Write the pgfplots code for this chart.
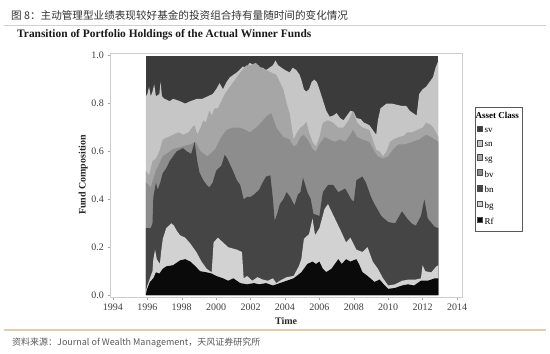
\documentclass[border=0pt]{standalone}
\usepackage{pgfplots}
\pgfplotsset{compat=1.18}
\usepackage{fontspec}
\setmainfont{Liberation Serif}
\newfontfamily\cjk{Noto Sans CJK SC}
\definecolor{svc}{HTML}{3B3B3B}
\definecolor{snc}{HTML}{C6C6C6}
\definecolor{sgc}{HTML}{A6A6A6}
\definecolor{bvc}{HTML}{8D8D8D}
\definecolor{bnc}{HTML}{454545}
\definecolor{bgc}{HTML}{D2D2D2}
\definecolor{rfc}{HTML}{0A0A0A}
\definecolor{tanc}{HTML}{E3CDAE}
\begin{document}
\begin{tikzpicture}
\useasboundingbox (0,0) rectangle (550pt,354pt);
\fill[white] (0,0) rectangle (550pt,354pt);
\node[anchor=west, inner sep=0, font=\cjk\fontsize{10.6}{12}\selectfont, text=black!80] at (11pt,339pt) {图 8：主动管理型业绩表现较好基金的投资组合持有量随时间的变化情况};
\draw[tanc, line width=1.2pt] (4pt,328.5pt) -- (546pt,328.5pt);
\node[anchor=base west, inner sep=0, font=\bfseries\fontsize{11.4}{13}\selectfont, text=black!90] at (17pt,316pt) {Transition of Portfolio Holdings of the Actual Winner Funds};
\draw[tanc, line width=1.2pt] (4pt,24pt) -- (546pt,24pt);
\node[anchor=west, inner sep=0, font=\cjk\fontsize{9}{11}\selectfont, text=black!65] at (12pt,11.5pt) {资料来源：Journal of Wealth Management，天风证券研究所};
\begin{axis}[
  at={(110.5pt,56.5pt)}, anchor=south west,
  width=351.2pt, height=244.8pt, scale only axis,
  xmin=1993.86, xmax=2014.27, ymin=-0.01, ymax=1.0125,
  xtick={1994,1996,1998,2000,2002,2004,2006,2008,2010,2012,2014},
  ytick={0,0.2,0.4,0.6,0.8,1},
  /pgf/number format/assume math mode=true,
  xticklabel style={/pgf/number format/1000 sep={}},
  yticklabel style={/pgf/number format/.cd, fixed, fixed zerofill, precision=1},
  tick label style={font=\fontsize{10}{11}\selectfont, text=black!75},
  tick pos=left, tick align=outside, major tick length=3pt,
  every tick/.style={gray!70, line width=0.4pt},
  axis line style={gray!40},
  xlabel={Time}, ylabel={Fund Composition},
  label style={font=\bfseries\fontsize{10}{11}\selectfont, text=black!85},
  xlabel style={at={(axis description cs:0.5,-0.096)}, anchor=center},
  ylabel style={at={(axis description cs:-0.078,0.5)}, anchor=center},
  legend image code/.code={\draw[#1, draw=gray!60!black, line width=0.3pt] (0pt,-0.3pt) rectangle (5.6pt,5.3pt);},
  legend style={at={(rel axis cs:1.038,0.779)}, anchor=north west, draw=gray!70!black, line width=0.4pt,
    font=\fontsize{9}{10}\selectfont, row sep=4.0pt, inner xsep=1.5pt, inner ysep=3pt,
    /tikz/every even column/.append style={column sep=1pt}},
  legend cell align=left,
]
\addlegendimage{empty legend}
\addlegendentry{\hspace{-9pt}\textbf{Asset Class}\hspace{5pt}}

\addplot[fill=svc, draw=none] coordinates {(1995.92,1.0) (2012.92,1.0)} \closedcycle;
\addlegendentry{sv}

\addplot[fill=snc, draw=none] coordinates {
(1995.92,0.83) (1996.0,0.84) (1996.1,0.87) (1996.2,0.83) (1996.3,0.85) (1996.4,0.88) (1996.5,0.83)
(1996.7,0.84) (1996.77,0.89) (1996.85,0.83) (1997.0,0.82) (1997.3,0.81) (1997.5,0.82) (1997.9,0.81)
(1998.2,0.80) (1998.5,0.81) (1998.9,0.82) (1999.2,0.82) (1999.5,0.83) (1999.8,0.84) (2000.0,0.86)
(2000.2,0.885) (2000.4,0.86) (2000.6,0.89) (2000.8,0.91) (2001.0,0.92) (2001.2,0.93) (2001.55,0.955)
(2001.75,0.95) (2001.95,0.97) (2002.2,0.96) (2002.4,0.95) (2002.7,0.95) (2002.9,0.94) (2003.1,0.95)
(2003.3,0.96) (2003.45,0.98) (2003.6,0.96) (2003.8,0.95) (2004.0,0.94) (2004.27,0.93) (2004.45,0.95)
(2004.66,0.94) (2004.85,0.92) (2004.95,0.90) (2005.1,0.86) (2005.24,0.85) (2005.4,0.86)
(2005.55,0.89) (2005.7,0.90) (2005.85,0.89) (2006.0,0.86) (2006.2,0.815) (2006.4,0.77) (2006.6,0.745)
(2006.8,0.75) (2007.0,0.76) (2007.2,0.74) (2007.4,0.73) (2007.6,0.75) (2007.8,0.77) (2008.0,0.765)
(2008.15,0.74) (2008.4,0.735) (2008.6,0.72) (2008.9,0.71) (2009.1,0.69) (2009.3,0.67) (2009.4,0.73)
(2009.55,0.78) (2009.9,0.80) (2010.2,0.80) (2010.5,0.795) (2010.8,0.79) (2011.05,0.79) (2011.25,0.77)
(2011.45,0.76) (2011.65,0.75) (2011.8,0.84) (2012.0,0.86) (2012.2,0.87) (2012.4,0.89) (2012.6,0.91)
(2012.75,0.95) (2012.92,0.98)} \closedcycle;
\addlegendentry{sn}

\addplot[fill=sgc, draw=none] coordinates {
(1995.92,0.52) (1996.1,0.50) (1996.3,0.56) (1996.5,0.57) (1996.7,0.60) (1996.9,0.65) (1997.2,0.66)
(1997.5,0.67) (1997.8,0.68) (1998.1,0.67) (1998.4,0.68) (1998.6,0.70) (1998.75,0.71) (1998.9,0.67)
(1999.1,0.70) (1999.25,0.73) (1999.4,0.72) (1999.6,0.77) (1999.75,0.75) (1999.9,0.78) (2000.1,0.78)
(2000.3,0.81) (2000.5,0.84) (2000.8,0.87) (2001.0,0.89) (2001.2,0.91) (2001.4,0.93) (2001.75,0.96)
(2002.0,0.96) (2002.3,0.97) (2002.6,0.95) (2002.9,0.94) (2003.2,0.93) (2003.5,0.92) (2003.7,0.89)
(2003.9,0.86) (2004.1,0.80) (2004.27,0.76) (2004.5,0.65) (2004.7,0.68) (2004.9,0.70) (2005.1,0.71)
(2005.24,0.725) (2005.4,0.68) (2005.6,0.64) (2005.8,0.62) (2006.0,0.66) (2006.2,0.72) (2006.5,0.73)
(2006.8,0.72) (2007.1,0.70) (2007.4,0.70) (2007.7,0.73) (2007.95,0.77) (2008.2,0.72) (2008.5,0.70)
(2008.9,0.69) (2009.1,0.65) (2009.3,0.607) (2009.5,0.60) (2009.7,0.58) (2009.9,0.60) (2010.1,0.64)
(2010.3,0.65) (2010.6,0.66) (2010.9,0.665) (2011.1,0.68) (2011.4,0.68) (2011.7,0.69) (2012.0,0.70)
(2012.2,0.72) (2012.5,0.71) (2012.7,0.69) (2012.92,0.66)} \closedcycle;
\addlegendentry{sg}

\addplot[fill=bvc, draw=none] coordinates {
(1995.92,0.47) (1996.2,0.45) (1996.5,0.52) (1996.9,0.58) (1997.5,0.61) (1998.0,0.62) (1998.5,0.63)
(1998.8,0.64) (1999.1,0.60) (1999.5,0.58) (1999.95,0.61) (2000.3,0.66) (2000.6,0.69) (2001.0,0.70)
(2001.37,0.70) (2001.7,0.69) (2001.95,0.68) (2002.33,0.70) (2002.6,0.72) (2002.9,0.745) (2003.2,0.76)
(2003.5,0.70) (2003.9,0.66) (2004.27,0.65) (2004.5,0.62) (2004.7,0.63) (2004.9,0.66) (2005.1,0.67)
(2005.4,0.64) (2005.6,0.61) (2005.8,0.60) (2006.0,0.63) (2006.3,0.66) (2006.6,0.65) (2006.9,0.64)
(2007.2,0.65) (2007.5,0.64) (2007.8,0.67) (2007.95,0.69) (2008.2,0.66) (2008.5,0.65) (2008.9,0.64)
(2009.2,0.60) (2009.4,0.58) (2009.7,0.57) (2010.0,0.58) (2010.3,0.61) (2010.6,0.63) (2011.0,0.63)
(2011.4,0.64) (2011.8,0.65) (2012.2,0.67) (2012.5,0.66) (2012.92,0.64)} \closedcycle;
\addlegendentry{bv}

\addplot[fill=bnc, draw=none] coordinates {
(1995.92,0.28) (1996.2,0.28) (1996.3,0.30) (1996.35,0.41) (1996.5,0.47) (1996.6,0.44) (1996.75,0.47)
(1996.9,0.51) (1997.1,0.53) (1997.3,0.56) (1997.5,0.58) (1997.7,0.60) (1998.07,0.614) (1998.3,0.60)
(1998.55,0.59) (1998.75,0.64) (1998.9,0.56) (1999.04,0.51) (1999.25,0.48) (1999.45,0.46) (1999.6,0.45)
(1999.8,0.47) (2000.0,0.52) (2000.3,0.54) (2000.5,0.586) (2000.65,0.57) (2000.97,0.52) (2001.2,0.48)
(2001.4,0.46) (2001.6,0.40) (2001.8,0.41) (2002.0,0.41) (2002.2,0.42) (2002.5,0.44) (2002.7,0.47)
(2002.9,0.495) (2003.15,0.50) (2003.3,0.40) (2003.4,0.31) (2003.55,0.34) (2003.7,0.38) (2003.9,0.40)
(2004.1,0.43) (2004.3,0.41) (2004.55,0.375) (2004.75,0.42) (2004.9,0.43) (2005.05,0.49) (2005.3,0.43)
(2005.5,0.40) (2005.65,0.34) (2006.0,0.33) (2006.2,0.43) (2006.5,0.46) (2006.8,0.46) (2007.1,0.43)
(2007.5,0.445) (2007.85,0.40) (2008.0,0.39) (2008.15,0.48) (2008.5,0.495) (2008.7,0.47) (2008.85,0.44)
(2009.0,0.41) (2009.2,0.38) (2009.6,0.33) (2010.0,0.305) (2010.4,0.30) (2010.8,0.35) (2011.1,0.32)
(2011.35,0.30) (2011.6,0.29) (2011.9,0.33) (2012.1,0.40) (2012.3,0.32) (2012.7,0.285) (2012.92,0.28)} \closedcycle;
\addlegendentry{bn}

\addplot[fill=bgc, draw=none] coordinates {
(1995.92,0.02) (1996.0,0.04) (1996.15,0.07) (1996.3,0.10) (1996.35,0.15) (1996.45,0.19) (1996.55,0.15)
(1996.73,0.13) (1996.8,0.18) (1996.9,0.235) (1997.1,0.28) (1997.4,0.30) (1997.55,0.29) (1997.7,0.27)
(1997.9,0.25) (1998.2,0.24) (1998.5,0.215) (1998.85,0.18) (1999.15,0.14) (1999.45,0.11) (1999.74,0.095)
(1999.85,0.22) (2000.1,0.24) (2000.4,0.22) (2000.7,0.20) (2001.2,0.19) (2001.5,0.18) (2001.6,0.07)
(2001.8,0.08) (2002.1,0.06) (2002.4,0.075) (2002.7,0.065) (2003.0,0.06) (2003.3,0.07) (2003.5,0.05)
(2003.7,0.06) (2004.1,0.075) (2004.5,0.08) (2004.8,0.12) (2004.95,0.15) (2005.1,0.235) (2005.4,0.255)
(2005.6,0.32) (2005.75,0.25) (2006.0,0.28) (2006.3,0.36) (2006.5,0.38) (2006.7,0.35) (2007.1,0.29)
(2007.3,0.26) (2007.55,0.22) (2007.8,0.24) (2008.15,0.19) (2008.5,0.18) (2008.8,0.20) (2009.1,0.14)
(2009.4,0.11) (2009.7,0.07) (2010.0,0.04) (2010.4,0.045) (2010.8,0.06) (2011.2,0.065) (2011.6,0.065)
(2011.9,0.07) (2012.0,0.125) (2012.15,0.10) (2012.5,0.095) (2012.8,0.12) (2012.92,0.125)} \closedcycle;
\addlegendentry{bg}

\addplot[fill=rfc, draw=none] coordinates {
(1995.92,0.0) (1995.96,0.02) (1996.15,0.055) (1996.35,0.07) (1996.5,0.095) (1996.7,0.09) (1996.9,0.11)
(1997.1,0.12) (1997.5,0.125) (1997.9,0.145) (1998.2,0.15) (1998.5,0.14) (1998.8,0.12) (1999.06,0.10)
(1999.45,0.095) (1999.74,0.09) (2000.0,0.08) (2000.4,0.07) (2000.7,0.06) (2001.0,0.07) (2001.4,0.05)
(2001.8,0.045) (2002.2,0.05) (2002.5,0.045) (2002.9,0.05) (2003.3,0.04) (2003.7,0.05) (2004.1,0.06)
(2004.5,0.07) (2004.95,0.095) (2005.3,0.13) (2005.6,0.14) (2005.8,0.13) (2006.0,0.14) (2006.2,0.11)
(2006.4,0.096) (2006.7,0.11) (2007.1,0.15) (2007.3,0.13) (2007.55,0.15) (2007.8,0.14) (2008.15,0.15)
(2008.3,0.13) (2008.5,0.096) (2008.8,0.08) (2009.2,0.055) (2009.5,0.065) (2009.8,0.04) (2010.0,0.026)
(2010.4,0.03) (2010.8,0.04) (2011.15,0.045) (2011.5,0.04) (2011.9,0.06) (2012.3,0.06) (2012.7,0.07)
(2012.92,0.07)} \closedcycle;
\addlegendentry{Rf}
\end{axis}
\end{tikzpicture}
\end{document}
